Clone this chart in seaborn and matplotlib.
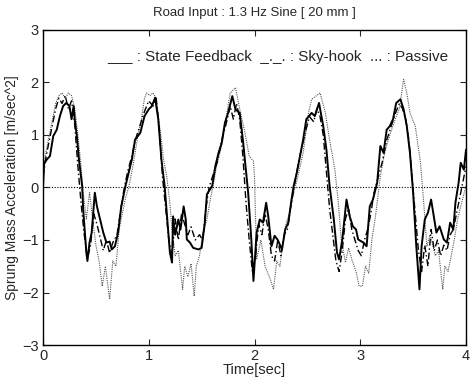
import numpy as np
import pandas as pd
import matplotlib
matplotlib.use('Agg')
import matplotlib.pyplot as plt
import seaborn as sns

# State feedback (solid)
t_sf = [0.0, 0.01, 0.035, 0.066, 0.097, 0.13, 0.16, 0.19, 0.22, 0.25, 0.27, 0.29, 0.30, 0.32, 0.34,
        0.37, 0.38, 0.41, 0.42, 0.44, 0.46, 0.49, 0.51, 0.54, 0.57, 0.60, 0.63, 0.65, 0.68, 0.71,
        0.74, 0.78, 0.81, 0.84, 0.87, 0.92, 0.96, 1.00, 1.03, 1.06, 1.09, 1.12, 1.15, 1.17, 1.20,
        1.22, 1.23, 1.25, 1.28, 1.30, 1.33, 1.35, 1.36, 1.39, 1.42, 1.47, 1.50, 1.53, 1.55, 1.60,
        1.63, 1.66, 1.69, 1.72, 1.75, 1.79, 1.82, 1.86, 1.89, 1.94, 1.97, 1.99, 2.02, 2.05, 2.08,
        2.11, 2.13, 2.16, 2.19, 2.22, 2.26, 2.29, 2.32, 2.35, 2.37, 2.40, 2.43, 2.46, 2.49, 2.54,
        2.57, 2.61, 2.65, 2.68, 2.71, 2.75, 2.78, 2.80, 2.83, 2.87, 2.90, 2.93, 2.96, 2.98, 3.03,
        3.06, 3.09, 3.12, 3.16, 3.19, 3.22, 3.25, 3.28, 3.31, 3.34, 3.38, 3.41, 3.44, 3.47, 3.50,
        3.53, 3.56, 3.58, 3.61, 3.64, 3.67, 3.69, 3.72, 3.75, 3.79, 3.82, 3.85, 3.88, 3.90, 3.93,
        3.95, 3.98, 4.0]
y_sf = [0.0, 0.45, 0.53, 0.6, 0.98, 1.1, 1.36, 1.55, 1.61, 1.55, 1.3, 1.55, 1.3, 0.98, 0.53,
        0.03, -0.42, -1.24, -1.40, -1.05, -0.86, -0.1, -0.36, -0.61, -0.86, -1.05, -1.03, -1.18, -1.12, -0.86,
        -0.36, 0.03, 0.28, 0.53, 0.91, 1.04, 1.36, 1.49, 1.55, 1.71, 1.3, 0.53, 0.03, -0.48, -1.24,
        -1.43, -0.55, -0.9, -0.61, -0.8, -0.36, -0.61, -0.99, -1.05, -1.15, -1.18, -1.15, -0.67, -0.13, 0.03,
        0.41, 0.66, 0.85, 1.23, 1.42, 1.74, 1.49, 1.42, 0.91, -0.1, -1.0, -1.78, -0.86, -0.61, -0.67,
        -0.29, -0.55, -1.12, -0.92, -1.0, -1.18, -0.80, -0.67, -0.23, 0.03, 0.28, 0.60, 0.91, 1.3, 1.42,
        1.36, 1.61, 1.17, 0.72, 0.03, -0.61, -1.24, -1.37, -0.99, -0.23, -0.55, -0.74, -0.8, -0.99, -1.05,
        -1.12, -0.36, -0.23, 0.09, 0.79, 0.66, 1.10, 1.17, 1.3, 1.61, 1.68, 1.49, 1.17, 0.66, -0.1,
        -1.12, -1.94, -1.12, -0.61, -0.48, -0.23, -0.48, -0.86, -0.74, -0.99, -1.05, -0.67, -0.8, -0.29, 0.09,
        0.47, 0.34, 0.72]

# Sky-hook (dash-dot)
t_sh = [0.0, 0.03, 0.06, 0.09, 0.12, 0.15, 0.18, 0.21, 0.24, 0.27, 0.30, 0.33, 0.36, 0.39, 0.42,
        0.45, 0.48, 0.51, 0.54, 0.57, 0.60, 0.63, 0.66, 0.70, 0.73, 0.76, 0.80, 0.84, 0.88, 0.92,
        0.96, 1.00, 1.04, 1.07, 1.10, 1.13, 1.16, 1.19, 1.22, 1.25, 1.28, 1.31, 1.34, 1.37, 1.40,
        1.44, 1.48, 1.51, 1.54, 1.57, 1.61, 1.65, 1.69, 1.73, 1.77, 1.80, 1.83, 1.86, 1.89, 1.92,
        1.95, 1.98, 2.01, 2.04, 2.07, 2.10, 2.13, 2.16, 2.19, 2.22, 2.25, 2.28, 2.31, 2.34, 2.37,
        2.40, 2.44, 2.48, 2.52, 2.56, 2.59, 2.62, 2.65, 2.68, 2.71, 2.74, 2.77, 2.80, 2.83, 2.86,
        2.89, 2.92, 2.95, 2.98, 3.01, 3.04, 3.07, 3.10, 3.13, 3.17, 3.21, 3.25, 3.29, 3.33, 3.37,
        3.40, 3.43, 3.46, 3.49, 3.52, 3.55, 3.58, 3.61, 3.64, 3.67, 3.70, 3.73, 3.76, 3.79, 3.82,
        3.85, 3.88, 3.91, 3.94, 3.97, 4.0]
y_sh = [0.2, 0.6, 0.9, 1.2, 1.5, 1.7, 1.6, 1.75, 1.5, 1.65, 1.2, 0.4, -0.3, -0.9, -1.35,
        -1.1, -0.5, -0.7, -0.95, -1.2, -1.0, -1.25, -1.05, -0.9, -0.5, -0.1, 0.3, 0.6, 0.95, 1.2,
        1.45, 1.65, 1.55, 1.7, 1.1, 0.2, -0.4, -1.0, -1.3, -0.6, -1.0, -0.5, -0.7, -0.9, -0.75,
        -1.0, -0.9, -1.0, -0.4, 0.0, 0.25, 0.5, 0.9, 1.2, 1.55, 1.3, 1.6, 1.3, 0.6, -0.3,
        -1.0, -1.6, -1.3, -0.7, -0.9, -0.5, -0.8, -1.3, -1.4, -1.0, -1.3, -0.9, -0.8, -0.4, -0.05,
        0.3, 0.7, 1.05, 1.35, 1.25, 1.5, 1.35, 1.0, 0.3, -0.4, -0.9, -1.4, -1.6, -1.2, -0.6,
        -0.4, -0.8, -1.0, -1.2, -1.3, -1.0, -0.8, -0.5, -0.1, 0.2, 0.5, 0.9, 1.15, 1.4, 1.6,
        1.5, 1.3, 0.9, 0.2, -0.5, -1.2, -1.6, -1.1, -1.5, -0.8, -1.2, -1.0, -1.3, -1.1, -1.2,
        -0.9, -0.8, -0.5, -0.2, 0.1, 0.4]

# Passive (dotted)
t_pa = [0.0, 0.03, 0.06, 0.09, 0.12, 0.15, 0.18, 0.21, 0.24, 0.27, 0.30, 0.33, 0.36, 0.38, 0.41,
        0.44, 0.47, 0.50, 0.53, 0.56, 0.59, 0.63, 0.66, 0.69, 0.72, 0.75, 0.78, 0.81, 0.85, 0.89,
        0.93, 0.96, 0.98, 1.01, 1.04, 1.07, 1.10, 1.12, 1.14, 1.17, 1.20, 1.22, 1.25, 1.28, 1.32,
        1.34, 1.37, 1.40, 1.43, 1.45, 1.48, 1.51, 1.55, 1.58, 1.61, 1.64, 1.69, 1.73, 1.77, 1.82,
        1.86, 1.91, 1.95, 1.99, 2.00, 2.02, 2.06, 2.10, 2.15, 2.18, 2.21, 2.24, 2.27, 2.30, 2.33,
        2.36, 2.41, 2.46, 2.51, 2.54, 2.62, 2.67, 2.71, 2.76, 2.79, 2.82, 2.86, 2.89, 2.92, 2.96,
        2.99, 3.02, 3.05, 3.08, 3.11, 3.14, 3.19, 3.23, 3.28, 3.33, 3.37, 3.41, 3.44, 3.47, 3.52,
        3.57, 3.60, 3.63, 3.66, 3.71, 3.74, 3.78, 3.80, 3.83, 3.86, 3.89, 3.92, 3.95, 4.0]
y_pa = [0.3, 0.7, 1.0, 1.3, 1.6, 1.75, 1.8, 1.7, 1.8, 1.75, 1.5, 1.0, 0.4, -0.1, -0.6,
        -0.1, -0.61, -1.1, -1.4, -1.88, -1.5, -2.13, -1.4, -1.5, -0.8, -0.5, -0.2, 0.0, 0.4, 0.9,
        1.3, 1.7, 1.8, 1.75, 1.8, 1.7, 1.2, 0.9, 0.53, 0.21, -0.3, -0.8, -1.3, -1.2, -1.94,
        -1.5, -1.7, -1.45, -2.07, -1.5, -1.3, -0.9, -0.61, -0.25, 0.05, 0.4, 0.8, 1.3, 1.8, 1.9,
        1.5, 1.04, 0.6, 0.5, 0.2, -1.37, -1.0, -1.5, -1.75, -1.94, -1.4, -1.5, -1.05, -0.67, -0.5,
        -0.2, 0.21, 0.66, 1.42, 1.68, 1.8, 1.42, 0.91, 0.34, -0.23, -0.99, -1.43, -1.15, -1.37, -1.6,
        -1.88, -1.88, -1.5, -1.63, -0.99, -0.61, 0.21, 0.66, 1.0, 1.3, 1.5, 2.06, 1.8, 1.42, 1.17,
        0.47, -0.29, -1.12, -0.9, -1.3, -1.2, -1.94, -1.5, -1.6, -1.3, -0.99, -0.61, -0.36, 0.03]

sns.set_style('ticks')
plt.rcParams['font.family'] = ['Liberation Sans', 'DejaVu Sans']

fig = plt.figure(figsize=(4.7, 3.88), dpi=100)
ax = fig.add_axes([0.0915, 0.1108, 0.9, 0.812])

ax.axhline(0, color='black', linestyle=(0, (1, 1.5)), linewidth=0.8)
sns.lineplot(x=t_pa, y=y_pa, ax=ax, color='#555555', linewidth=0.8, linestyle=(0, (1, 1)), sort=False)
sns.lineplot(x=t_sh, y=y_sh, ax=ax, color='black', linewidth=1.0, linestyle=(0, (5, 2, 1, 2)), sort=False)
sns.lineplot(x=t_sf, y=y_sf, ax=ax, color='black', linewidth=1.4, sort=False)

ax.set_xlim(0, 4)
ax.set_ylim(-3, 3)
ax.set_xticks([0, 1, 2, 3, 4])
ax.set_yticks([-3, -2, -1, 0, 1, 2, 3])
ax.tick_params(direction='in', top=True, right=True, labelsize=10.5, length=4, width=0.8, pad=3)
for s in ax.spines.values():
    s.set_linewidth(1.0)
    s.set_color('black')

ax.set_xlabel('Time[sec]', fontsize=10.5, labelpad=0)
ax.set_ylabel('Sprung Mass Acceleration [m/sec^2]', fontsize=10, labelpad=2)
ax.set_title('Road Input : 1.3 Hz Sine [ 20 mm ]', fontsize=9.5, pad=10)
ax.text(0.556, 0.914, '___ : State Feedback  _._. : Sky-hook  ... : Passive',
        transform=ax.transAxes, ha='center', va='center', fontsize=11)

fig.savefig('out.png', dpi=100)
